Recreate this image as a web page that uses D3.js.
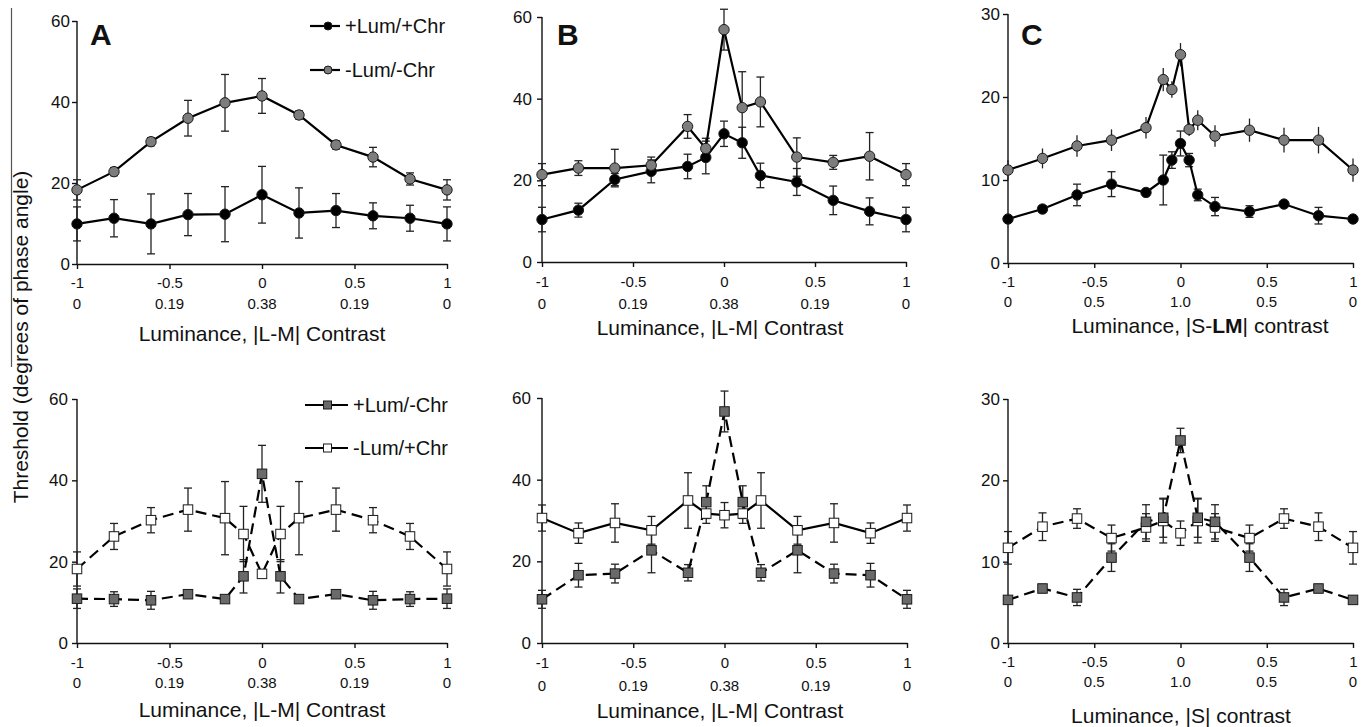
<!DOCTYPE html>
<html lang="en">
<head>
<meta charset="utf-8">
<script src="https://cdnjs.cloudflare.com/ajax/libs/d3/7.8.5/d3.min.js"></script>
<style>
  body { margin: 0; background: #fff; }
  text { font-family: "Liberation Sans", Arial, sans-serif; fill: #111; }
</style>
</head>
<body>
<script>
// x positions (luminance contrast)
const xs11 = [-1, -0.8, -0.6, -0.4, -0.2, 0, 0.2, 0.4, 0.6, 0.8, 1];
const xs13 = [-1, -0.8, -0.6, -0.4, -0.2, -0.1, 0, 0.1, 0.2, 0.4, 0.6, 0.8, 1];
const xs15 = [-1, -0.8, -0.6, -0.4, -0.2, -0.1, -0.05, 0, 0.05, 0.1, 0.2, 0.4, 0.6, 0.8, 1];

// tick labels
const xTicks = [-1, -0.5, 0, 0.5, 1];
const xTickLabels = ["-1", "-0.5", "0", "0.5", "1"];
const lmLabels = ["0", "0.19", "0.38", "0.19", "0"];
const sLabels = ["0", "0.5", "1.0", "0.5", "0"];
const yTicks60 = [0, 20, 40, 60];
const yTicks30 = [0, 10, 20, 30];

// series names
const topNames = ["+Lum/+Chr", "-Lum/-Chr"];
const botNames = ["+Lum/-Chr", "-Lum/+Chr"];

// panel A, top
const aTopPos = [9.9, 11.3, 9.9, 12.2, 12.3, 17.1, 12.6, 13.2, 11.9, 11.3, 9.9];
const aTopPosErr = [4.2, 4.6, 7.4, 5.2, 6.8, 7.0, 6.2, 4.2, 3.2, 3.2, 4.2];
const aTopNeg = [18.3, 22.8, 30.2, 36.0, 39.8, 41.5, 36.8, 29.4, 26.4, 21.0, 18.3];
const aTopNegErr = [2.5, 1.0, 1.0, 4.4, 7.0, 4.3, 1.0, 1.0, 2.4, 1.5, 2.5];

// panel B, top
const bTopPos = [10.4, 12.7, 20.2, 22.2, 23.4, 25.6, 31.4, 29.2, 21.2, 19.6, 15.1, 12.4, 10.4];
const bTopPosErr = [3.0, 1.7, 1.5, 2.8, 3.0, 4.0, 3.1, 3.8, 3.0, 3.3, 3.5, 3.3, 3.0];
const bTopNeg = [21.4, 23.0, 23.0, 23.7, 33.2, 27.8, 56.9, 37.8, 39.2, 25.7, 24.4, 25.9, 21.4];
const bTopNegErr = [2.7, 1.8, 4.6, 2.0, 2.9, 2.5, 5.0, 8.8, 6.1, 4.7, 1.7, 5.8, 2.7];

// panel C, top
const cTopPos = [5.3, 6.5, 8.2, 9.5, 8.5, 10.0, 12.4, 14.4, 12.4, 8.2, 6.8, 6.2, 7.1, 5.7, 5.3];
const cTopPosErr = [0.3, 0.4, 1.3, 1.5, 0.3, 3.0, 1.0, 1.5, 0.8, 0.7, 1.1, 0.7, 0.3, 1.0, 0.2];
const cTopNeg = [11.2, 12.6, 14.1, 14.8, 16.3, 22.1, 20.9, 25.1, 16.1, 17.2, 15.3, 16.0, 14.8, 14.8, 11.2];
const cTopNegErr = [1.2, 1.2, 1.3, 1.3, 1.3, 1.4, 1.0, 1.4, 0.8, 1.2, 1.3, 1.4, 1.5, 1.6, 1.4];

// panel A, bottom
const aBotPN = [10.9, 10.8, 10.5, 12.0, 10.8, 16.4, 41.6, 16.4, 10.8, 12.0, 10.5, 10.8, 10.9];
const aBotPNErr = [2.4, 1.8, 2.2, 0.8, 0.7, 4.1, 7.0, 4.1, 0.7, 0.8, 2.2, 1.8, 2.4];
const aBotNP = [18.2, 26.2, 30.2, 32.8, 30.7, 26.8, 17.0, 26.8, 30.7, 32.8, 30.2, 26.2, 18.2];
const aBotNPErr = [4.2, 3.2, 3.1, 5.3, 9.0, 6.8, 0.8, 6.8, 9.0, 5.3, 3.1, 3.2, 4.2];

// panel B, bottom
const bBotPN = [10.7, 16.6, 17.0, 22.7, 17.2, 34.5, 56.7, 34.5, 17.2, 22.7, 17.0, 16.6, 10.7];
const bBotPNErr = [2.2, 2.9, 2.3, 5.5, 2.0, 4.0, 5.0, 4.0, 2.0, 5.5, 2.3, 2.9, 2.2];
const bBotNP = [30.6, 26.9, 29.4, 27.6, 34.9, 31.7, 31.3, 31.7, 34.9, 27.6, 29.4, 26.9, 30.6];
const bBotNPErr = [3.2, 2.5, 4.7, 3.4, 6.8, 2.4, 3.1, 2.4, 6.8, 3.4, 4.7, 2.5, 3.2];

// panel C, bottom
const cBotPN = [5.3, 6.7, 5.6, 10.5, 14.9, 15.4, 24.9, 15.4, 14.9, 10.5, 5.6, 6.7, 5.3];
const cBotPNErr = [0.3, 0.5, 1.0, 1.7, 2.1, 2.4, 1.5, 2.4, 2.1, 1.7, 1.0, 0.5, 0.3];
const cBotNP = [11.7, 14.3, 15.3, 12.9, 14.2, 15.0, 13.5, 15.0, 14.2, 12.9, 15.3, 14.3, 11.7];
const cBotNPErr = [2.0, 1.7, 1.2, 1.6, 1.7, 2.7, 1.5, 2.7, 1.7, 1.6, 1.2, 1.7, 2.0];

// marker styles
const BLACK = {shape: "circle", fill: "#000"};
const GRAY = {shape: "circle", fill: "#7d7d7d"};
const DARKSQ = {shape: "square", fill: "#6a6a6a"};
const WHITESQ = {shape: "square", fill: "#fff"};

const W = 1368, H = 727;
const svg = d3.select("body").append("svg")
  .attr("width", W).attr("height", H);

const panels = [
  {letter: "A", x0: 77, x1: 447, y0: 264, y1: 21, yMax: 60, yTicks: yTicks60, yPad: 2,
   sub: lmLabels, tickY: 288, subY: 309, titleX: 262, titleY: 341, title: "lm",
   legend: {names: topNames, lx: 310, ly: [26, 70], styles: [BLACK, GRAY], dash: [null, null], len: 30},
   series: [
     {xs: xs11, ys: aTopNeg, err: aTopNegErr, st: GRAY, cap: true},
     {xs: xs11, ys: aTopPos, err: aTopPosErr, st: BLACK, cap: true}]},
  {letter: "B", x0: 542, x1: 906, y0: 262, y1: 17, yMax: 60, yTicks: yTicks60, yPad: 5,
   sub: lmLabels, tickY: 287, subY: 309, titleX: 720, titleY: 335, title: "lm",
   series: [
     {xs: xs13, ys: bTopPos, err: bTopPosErr, st: BLACK, cap: true},
     {xs: xs13, ys: bTopNeg, err: bTopNegErr, st: GRAY, cap: true}]},
  {letter: "C", x0: 1008, x1: 1353, y0: 263, y1: 14, yMax: 30, yTicks: yTicks30, yPad: 3,
   sub: sLabels, tickY: 287, subY: 307, titleX: 1200, titleY: 333, title: "slm",
   series: [
     {xs: xs15, ys: cTopNeg, err: cTopNegErr, st: GRAY, cap: false},
     {xs: xs15, ys: cTopPos, err: cTopPosErr, st: BLACK, cap: true}]},
  {letter: null, x0: 77, x1: 447, y0: 643, y1: 399, yMax: 60, yTicks: yTicks60, yPad: 4,
   sub: lmLabels, tickY: 668, subY: 688, titleX: 262, titleY: 717, title: "lm",
   legend: {names: botNames, lx: 305, ly: [405, 448], styles: [DARKSQ, WHITESQ], len: 43},
   series: [
     {xs: xs13, ys: aBotNP, err: aBotNPErr, st: WHITESQ, cap: true, dash: true},
     {xs: xs13, ys: aBotPN, err: aBotPNErr, st: DARKSQ, cap: true, dash: true}]},
  {letter: null, x0: 542, x1: 907, y0: 643, y1: 398, yMax: 60, yTicks: yTicks60, yPad: 6,
   sub: lmLabels, tickY: 668, subY: 691, titleX: 720, titleY: 718, title: "lm",
   series: [
     {xs: xs13, ys: bBotPN, err: bBotPNErr, st: DARKSQ, cap: true, dash: true},
     {xs: xs13, ys: bBotNP, err: bBotNPErr, st: WHITESQ, cap: true}]},
  {letter: null, x0: 1008, x1: 1353, y0: 643, y1: 399, yMax: 30, yTicks: yTicks30, yPad: 3,
   sub: sLabels, tickY: 667, subY: 687, titleX: 1181, titleY: 723, title: "s",
   series: [
     {xs: xs13, ys: cBotNP, err: cBotNPErr, st: WHITESQ, cap: true, dash: true},
     {xs: xs13, ys: cBotPN, err: cBotPNErr, st: DARKSQ, cap: true, dash: true}]}
];

function drawMarker(g, cx, cy, st, small) {
  if (st.shape === "circle") {
    g.append("circle").attr("cx", cx).attr("cy", cy).attr("r", small ? 4 : 5.2)
      .attr("fill", st.fill).attr("stroke", "#1a1a1a").attr("stroke-width", 1);
  } else {
    const s = small ? 8 : 9.5;
    g.append("rect").attr("x", cx - s / 2).attr("y", cy - s / 2)
      .attr("width", s).attr("height", s)
      .attr("fill", st.fill).attr("stroke", "#1a1a1a").attr("stroke-width", 1);
  }
}

panels.forEach(p => {
  const x = d3.scaleLinear().domain([-1, 1]).range([p.x0, p.x1]);
  const y = d3.scaleLinear().domain([0, p.yMax]).range([p.y0, p.y1]);
  const g = svg.append("g");

  // y axis
  const ya = g.append("g").attr("transform", `translate(${p.x0},0)`)
    .call(d3.axisLeft(y).tickValues(p.yTicks).tickSize(5).tickSizeOuter(0).tickPadding(p.yPad));
  ya.selectAll("text").style("font-size", "17px").attr("fill", "#111");
  ya.selectAll("path, line").attr("stroke", "#111").attr("stroke-width", 1.4);
  ya.select(".domain").attr("d", `M0,${p.y0}V${p.y1}`);

  // x axis
  const xa = g.append("g").attr("transform", `translate(0,${p.y0})`)
    .call(d3.axisBottom(x).tickValues(xTicks).tickFormat((d, i) => xTickLabels[i])
      .tickSize(5).tickSizeOuter(0).tickPadding(p.tickY - p.y0 - 5 - 10.5));
  xa.selectAll("text").style("font-size", "15px").attr("fill", "#111");
  xa.selectAll("path, line").attr("stroke", "#111").attr("stroke-width", 1.4);

  // second row of tick labels
  g.selectAll("text.sub").data(xTicks).enter().append("text")
    .attr("class", "sub")
    .attr("x", d => x(d)).attr("y", p.subY)
    .attr("text-anchor", "middle").style("font-size", "15px")
    .text((d, i) => p.sub[i]);

  // axis title
  const t = g.append("text").attr("x", p.titleX).attr("y", p.titleY)
    .attr("text-anchor", "middle").style("font-size", "21px");
  if (p.title === "lm") {
    t.text("Luminance, |L-M| Contrast");
  } else if (p.title === "s") {
    t.text("Luminance, |S| contrast");
  } else {
    t.append("tspan").text("Luminance, |S-");
    t.append("tspan").attr("font-weight", "bold").text("LM");
    t.append("tspan").text("| contrast");
  }

  // panel letter
  if (p.letter) {
    const lx = {A: 90, B: 557, C: 1021}[p.letter];
    g.append("text").attr("x", lx).attr("y", 45)
      .attr("font-weight", "bold").style("font-size", "30px").text(p.letter);
  }

  // error bars
  p.series.forEach(s => {
    const eb = g.append("g");
    s.xs.forEach((xv, i) => {
      const cx = x(xv), top = y(s.ys[i] + s.err[i]), bot = y(s.ys[i] - s.err[i]);
      eb.append("line").attr("x1", cx).attr("x2", cx).attr("y1", top).attr("y2", bot)
        .attr("stroke", "#222").attr("stroke-width", 1.3);
      if (s.cap) {
        [top, bot].forEach(yy => eb.append("line")
          .attr("x1", cx - 4).attr("x2", cx + 4).attr("y1", yy).attr("y2", yy)
          .attr("stroke", "#222").attr("stroke-width", 1.3));
      }
    });
  });

  // lines
  p.series.forEach(s => {
    const pts = s.xs.map((xv, i) => [xv, s.ys[i]]);
    g.append("path").datum(pts)
      .attr("d", d3.line().x(d => x(d[0])).y(d => y(d[1])))
      .attr("fill", "none").attr("stroke", "#000").attr("stroke-width", 2.2)
      .attr("stroke-dasharray", s.dash ? "11,6" : null);
  });

  // markers
  p.series.forEach(s => {
    const mg = g.append("g");
    s.xs.forEach((xv, i) => drawMarker(mg, x(xv), y(s.ys[i]), s.st, false));
  });

  // legend
  if (p.legend) {
    const L = p.legend;
    L.names.forEach((name, i) => {
      const ly = L.ly[i];
      const lg = g.append("g");
      lg.append("line").attr("x1", L.lx).attr("x2", L.lx + L.len)
        .attr("y1", ly).attr("y2", ly).attr("stroke", "#000").attr("stroke-width", 2.2);
      drawMarker(lg, L.lx + L.len / 2 + (L.len > 35 ? 1 : 3), ly, L.styles[i], true);
      lg.append("text").attr("x", L.lx + L.len + 5).attr("y", ly + 7)
        .style("font-size", "20px").text(name);
    });
  }
});

// shared y axis title with its overline
svg.append("line").attr("x1", 11.5).attr("x2", 11.5).attr("y1", 8).attr("y2", 367)
  .attr("stroke", "#555").attr("stroke-width", 1.2);
svg.append("text")
  .attr("transform", "translate(28,337) rotate(-90)")
  .attr("text-anchor", "middle").style("font-size", "21px")
  .text("Threshold (degrees of phase angle)");
</script>
</body>
</html>
